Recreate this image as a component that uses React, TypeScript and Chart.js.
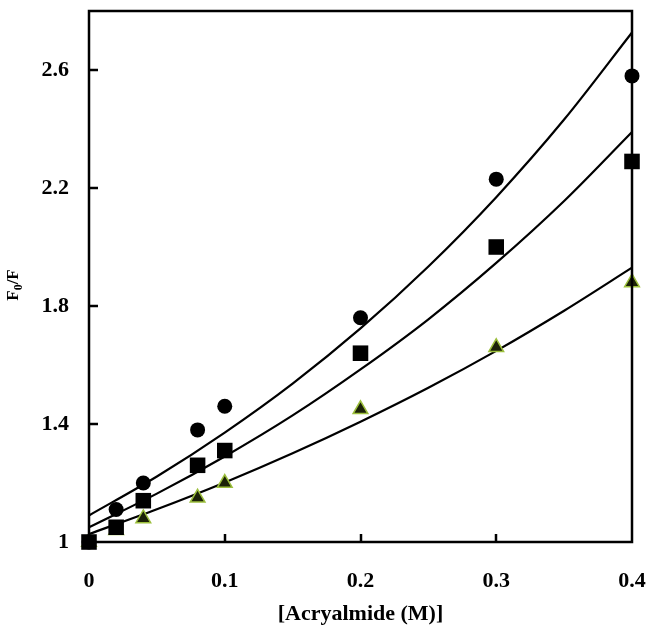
import React, { useEffect, useRef } from "react";
import { Chart, registerables } from "chart.js";

Chart.register(...registerables);

const concentrations = [0, 0.02, 0.04, 0.08, 0.1, 0.2, 0.3, 0.4];
const circleValues = [1, 1.11, 1.2, 1.38, 1.46, 1.76, 2.23, 2.58];
const squareValues = [1, 1.05, 1.14, 1.26, 1.31, 1.64, 2.0, 2.29];
const triangleValues = [1, 1.04, 1.08, 1.15, 1.2, 1.45, 1.66, 1.88];

const fitX = [0, 0.05, 0.1, 0.15, 0.2, 0.25, 0.3, 0.35, 0.4];
const fitCircle = [1.09, 1.222, 1.371, 1.537, 1.724, 1.934, 2.169, 2.432, 2.727];
const fitSquare = [1.05, 1.164, 1.29, 1.429, 1.585, 1.755, 1.946, 2.156, 2.39];
const fitTriangle = [1.027, 1.111, 1.202, 1.301, 1.408, 1.523, 1.648, 1.784, 1.93];

const yTicks = [1, 1.4, 1.8, 2.2, 2.6];
const xTicks = [0, 0.1, 0.2, 0.3, 0.4];

const FONT = "'Liberation Serif', 'Times New Roman', serif";

const pts = (xs: number[], ys: number[]) => xs.map((x, i) => ({ x, y: ys[i] }));

const zeroPad = (s: any) => {
  s.paddingTop = 0;
  s.paddingBottom = 0;
  s.paddingLeft = 0;
  s.paddingRight = 0;
};

const framePlugin = {
  id: "frame",
  afterDatasetsDraw(chart: any) {
    const { ctx, chartArea } = chart;
    const { left, right, top, bottom } = chartArea;
    const xs = chart.scales.x;
    const ys = chart.scales.y;
    ctx.save();
    ctx.strokeStyle = "#000";
    ctx.lineWidth = 2.5;
    ctx.strokeRect(left, top, right - left, bottom - top);
    ctx.beginPath();
    for (const v of yTicks) {
      if (v === 1) continue;
      const y = Math.round(ys.getPixelForValue(v));
      ctx.moveTo(left, y);
      ctx.lineTo(left + 9, y);
    }
    for (const v of xTicks) {
      if (v === 0 || v === 0.4) continue;
      const x = Math.round(xs.getPixelForValue(v));
      ctx.moveTo(x, bottom);
      ctx.lineTo(x, bottom - 8);
    }
    ctx.stroke();
    ctx.restore();
  },
  afterDraw(chart: any) {
    const { ctx } = chart;
    ctx.save();
    ctx.translate(18, 285);
    ctx.rotate(-Math.PI / 2);
    ctx.fillStyle = "#000";
    ctx.textBaseline = "alphabetic";
    const big = `bold 17px ${FONT}`;
    const small = `bold 12px ${FONT}`;
    ctx.font = big;
    const wF = ctx.measureText("F").width;
    const wSlash = ctx.measureText("/F").width;
    ctx.font = small;
    const w0 = ctx.measureText("0").width;
    const total = wF + w0 + wSlash;
    let x = -total / 2;
    ctx.font = big;
    ctx.fillText("F", x, 0);
    x += wF;
    ctx.font = small;
    ctx.fillText("0", x, 4);
    x += w0;
    ctx.font = big;
    ctx.fillText("/F", x, 0);
    ctx.restore();
  },
};

export default function App() {
  const ref = useRef<HTMLCanvasElement | null>(null);
  useEffect(() => {
    document.body.style.margin = "0";
    const canvas = ref.current!;
    const chart = new Chart(canvas, {
      type: "scatter",
      data: {
        datasets: [
          {
            label: "circle",
            data: pts(concentrations, circleValues),
            pointStyle: "circle",
            pointRadius: 7.5,
            backgroundColor: "#000",
            borderColor: "#000",
            borderWidth: 0,
            showLine: false,
          },
          {
            label: "square",
            data: pts(concentrations, squareValues),
            pointStyle: "rect",
            pointRadius: 11,
            backgroundColor: "#000",
            borderColor: "#000",
            borderWidth: 0,
            showLine: false,
          },
          {
            label: "triangle",
            data: pts(concentrations, triangleValues),
            pointStyle: "triangle",
            pointRadius: 8.5,
            backgroundColor: "#1c2208",
            borderColor: "#9cbf3c",
            borderWidth: 1.5,
            showLine: false,
          },
          {
            label: "fit1",
            data: pts(fitX, fitCircle),
            showLine: true,
            pointRadius: 0,
            borderColor: "#000",
            borderWidth: 2.2,
            cubicInterpolationMode: "monotone",
          } as any,
          {
            label: "fit2",
            data: pts(fitX, fitSquare),
            showLine: true,
            pointRadius: 0,
            borderColor: "#000",
            borderWidth: 2.2,
            cubicInterpolationMode: "monotone",
          } as any,
          {
            label: "fit3",
            data: pts(fitX, fitTriangle),
            showLine: true,
            pointRadius: 0,
            borderColor: "#000",
            borderWidth: 2.2,
            cubicInterpolationMode: "monotone",
          } as any,
        ],
      },
      options: {
        animation: false,
        responsive: false,
        maintainAspectRatio: false,
        clip: false as any,
        layout: { padding: { left: 0, right: 20, top: 7, bottom: 0 } },
        plugins: {
          legend: { display: false },
          tooltip: { enabled: false },
        },
        scales: {
          x: {
            type: "linear",
            min: 0,
            max: 0.4,
            afterBuildTicks: (s: any) => {
              s.ticks = xTicks.map((v) => ({ value: v }));
            },
            afterFit: (s: any) => {
              s.height = 90;
              zeroPad(s);
            },
            grid: { display: false, drawTicks: false },
            border: { display: false },
            ticks: {
              padding: 26,
              color: "#000",
              font: { family: FONT, size: 22, weight: "bold" },
              callback: (v: any) => String(Math.round(Number(v) * 10) / 10),
              maxRotation: 0,
            },
            title: {
              display: true,
              text: "[Acryalmide (M)]",
              color: "#000",
              font: { family: FONT, size: 22, weight: "bold" },
              padding: { top: 0, bottom: 4 },
            },
          },
          y: {
            type: "linear",
            min: 1,
            max: 2.8,
            afterBuildTicks: (s: any) => {
              s.ticks = yTicks.map((v) => ({ value: v }));
            },
            afterFit: (s: any) => {
              s.width = 89;
              zeroPad(s);
            },
            grid: { display: false, drawTicks: false },
            border: { display: false },
            ticks: {
              padding: 20,
              color: "#000",
              font: { family: FONT, size: 22, weight: "bold" },
              callback: (v: any) => String(Math.round(Number(v) * 10) / 10),
            },
          },
        },
      },
      plugins: [framePlugin],
    });
    return () => chart.destroy();
  }, []);
  return (
    <div style={{ width: 652, height: 632, background: "#fff" }}>
      <canvas ref={ref} width={652} height={632} style={{ display: "block" }} />
    </div>
  );
}
